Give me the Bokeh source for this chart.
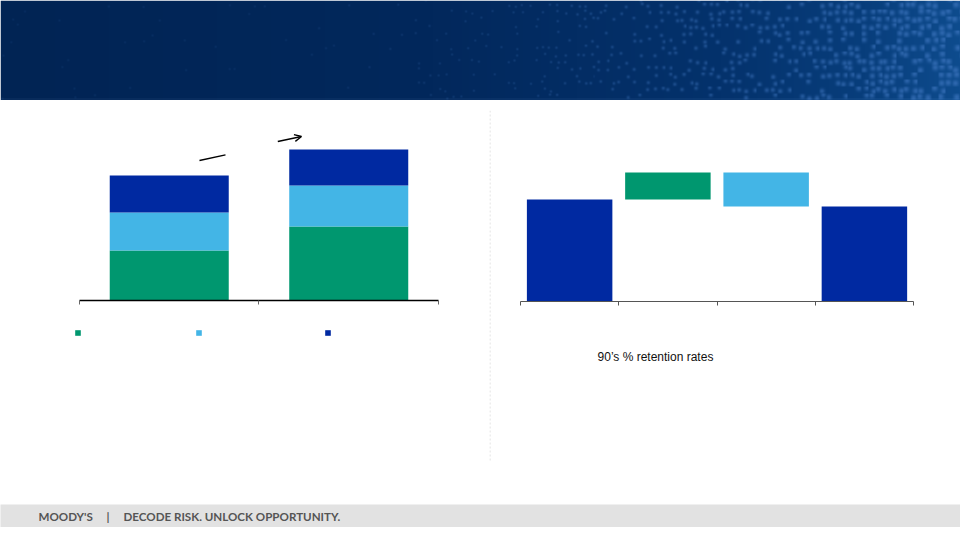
import numpy as np
from bokeh.plotting import figure
from bokeh.layouts import column, row
from bokeh.models import (Range1d, LinearAxis, FixedTicker, Legend, LegendItem,
                          Label, Arrow, OpenHead, Span, ColumnDataSource)
from bokeh.core.properties import value
from bokeh.embed import file_html
from bokeh.resources import INLINE

# ---------------- data ----------------
# left chart: stacked bars for two periods (labels not shown in the source)
mix_pos = [0.5, 1.5]
mix_green = [50, 74]
mix_light = [38, 41]
mix_navy = [37, 36]

# right chart: waterfall of retention (start, gain, loss, end)
wf_pos = [0.5, 1.5, 2.5, 3.5]
wf_start = 102
wf_gain = 27
wf_loss = 34
wf_end = 95

note_text = "90\u2019s % retention rates"
footer_brand = "MOODY'S"
footer_sep = "|"
footer_tag = "DECODE RISK. UNLOCK OPPORTUNITY."

# ---------------- style ----------------
GREEN = "#00976f"
LIGHT = "#43b5e6"
NAVY = "#0029a1"
FONT = "Liberation Sans"
W = 960


def bare(p):
    p.grid.visible = False
    return p

# ---------------- banner (decorative texture) ----------------
H_B = 100
banner = figure(width=W, height=H_B, x_range=Range1d(0, 1), y_range=Range1d(0, 1),
                toolbar_location=None, output_backend="svg", min_border=0,
                x_axis_location=None, y_axis_location=None, outline_line_color=None)
bare(banner)
yy, xx = np.mgrid[0:H_B, 0:W].astype(float)
t = xx / float(W)
st = [0.0, 0.45, 0.75, 0.9, 1.0]
base_r = np.interp(t, st, [1, 2, 4, 8, 14])
base_g = np.interp(t, st, [36, 40, 50, 62, 76])
base_b = np.interp(t, st, [84, 92, 108, 124, 142])
cell = 7.0
ci = np.floor(xx / cell)
cj = np.floor(yy / cell)
hsh = np.modf(np.abs(np.sin(ci * 12.9898 + cj * 78.233) * 43758.5453))[0]
hsh2 = np.modf(np.abs(np.sin(ci * 39.346 + cj * 11.135) * 24634.6345))[0]
hsh3 = np.modf(np.abs(np.sin(ci * 73.156 + cj * 52.235) * 13758.937))[0]
prob = np.clip((t - 0.35) * 1.2, 0.03, 0.7)
cx = ci * cell + 1.5 + hsh2 * 4.0
cy = cj * cell + 1.5 + hsh3 * 4.0
d2 = (xx - cx) ** 2 + (yy - cy) ** 2
rad = 0.7 + 1.6 * np.clip((t - 0.55) / 0.45, 0, 1)
soft = np.exp(-d2 / (2 * rad * rad))
alpha = (hsh < prob) * soft * (0.15 + 0.45 * np.clip((t - 0.3) / 0.7, 0, 1))
r = base_r + alpha * (70 - base_r)
g = base_g + alpha * (125 - base_g)
b = base_b + alpha * (200 - base_b)
img = np.zeros((H_B, W, 4), dtype=np.uint8)
img[..., 0] = r.astype(np.uint8)
img[..., 1] = g.astype(np.uint8)
img[..., 2] = b.astype(np.uint8)
img[..., 3] = 255
img[1, :, 0:3] = np.clip(img[1, :, 0:3].astype(int) + 14, 0, 255).astype(np.uint8)
banner.image_rgba(image=[img.view(dtype=np.uint32).reshape((H_B, W))], x=0, y=0, dw=1, dh=1)

# ---------------- left chart ----------------
H_M = 404
left = figure(width=489, height=H_M,
              x_range=Range1d(-0.1058, 2.234), y_range=Range1d(-162, 190),
              min_border_left=60, min_border_right=9, min_border_top=10, min_border_bottom=42,
              x_axis_location=None, y_axis_location=None, outline_line_color=None,
              toolbar_location=None, output_backend="svg")
bare(left)
src = ColumnDataSource(dict(x=mix_pos, g=mix_green, l=mix_light, n=mix_navy))
rs = left.vbar_stack(["g", "l", "n"], x="x", width=0.663, color=[GREEN, LIGHT, NAVY],
                     line_color=None, source=src)
ax = LinearAxis(fixed_location=0, bounds=(0, 2), ticker=FixedTicker(ticks=[0, 1, 2]),
                major_tick_in=0, major_tick_out=4, minor_tick_line_color=None,
                axis_line_color="black", axis_line_width=1.3, major_tick_line_color="#666666",
                major_label_overrides={0: "", 1: "", 2: ""}, major_label_text_font_size="0px")
left.add_layout(ax, "below")
for rr, off in zip(rs, [14, 135, 264]):
    leg = Legend(items=[LegendItem(label=value(""), renderers=[rr])], location=(off, 126),
                 orientation="horizontal", padding=0, margin=0, spacing=0,
                 glyph_width=7, glyph_height=7, label_standoff=0, label_width=0,
                 label_height=7, label_text_font_size="0px",
                 border_line_color=None, background_fill_alpha=0)
    left.add_layout(leg)
left.add_layout(Arrow(end=None, x_start=0.6685, y_start=140, x_end=0.8134, y_end=145.7,
                      line_color="black", line_width=1.3))
left.add_layout(Arrow(end=OpenHead(size=7, line_width=1.3, line_color="black"),
                      x_start=1.1047, y_start=159, x_end=1.2368, y_end=164,
                      line_color="black", line_width=1.3))

# ---------------- right chart ----------------
right = figure(width=471, height=H_M,
               x_range=Range1d(-0.3155, 4.478), y_range=Range1d(-161, 191),
               min_border_left=0, min_border_right=0, min_border_top=10, min_border_bottom=42,
               x_axis_location=None, y_axis_location=None, outline_line_color=None,
               toolbar_location=None, output_backend="svg")
bare(right)
wf_bottom = [0, wf_start, wf_start + wf_gain - wf_loss, 0]
wf_top = [wf_start, wf_start + wf_gain, wf_start + wf_gain, wf_end]
wf_src = ColumnDataSource(dict(x=wf_pos, bottom=wf_bottom, top=wf_top,
                               color=[NAVY, GREEN, LIGHT, NAVY]))
right.vbar(x="x", bottom="bottom", top="top", width=0.87, color="color",
           line_color=None, source=wf_src)
ax2 = LinearAxis(fixed_location=0, bounds=(0, 4), ticker=FixedTicker(ticks=[0, 1, 2, 3, 4]),
                 major_tick_in=0, major_tick_out=4, minor_tick_line_color=None,
                 axis_line_color="#555555", axis_line_width=1.2, major_tick_line_color="#555555",
                 major_label_overrides={i: "" for i in range(5)}, major_label_text_font_size="0px")
right.add_layout(ax2, "below")
right.add_layout(Span(location=-0.3104, dimension="height", line_color="#dcdcdc",
                      line_dash="2 2", line_width=1))
right.add_layout(Label(x=0.784, y=-55, text=note_text, text_font=FONT,
                       text_font_size="12px", text_color="#111111",
                       text_baseline="alphabetic"))

# ---------------- footer ----------------
footer = figure(width=W, height=23, x_range=Range1d(0, W), y_range=Range1d(0, 23),
                toolbar_location=None, output_backend="svg", min_border=0,
                x_axis_location=None, y_axis_location=None, outline_line_color=None,
                background_fill_color="#e2e2e2", border_fill_color="#e2e2e2")
bare(footer)
for txt, xpos in [(footer_brand, 38), (footer_sep, 106), (footer_tag, 123)]:
    footer.add_layout(Label(x=xpos, y=11, text=txt, text_font="Lato", text_font_style="bold",
                            text_font_size="11.6px", text_color="#555555",
                            text_baseline="middle"))

layout = column(banner, row(left, right), footer)
open("out.html", "w").write(file_html(layout, INLINE))
